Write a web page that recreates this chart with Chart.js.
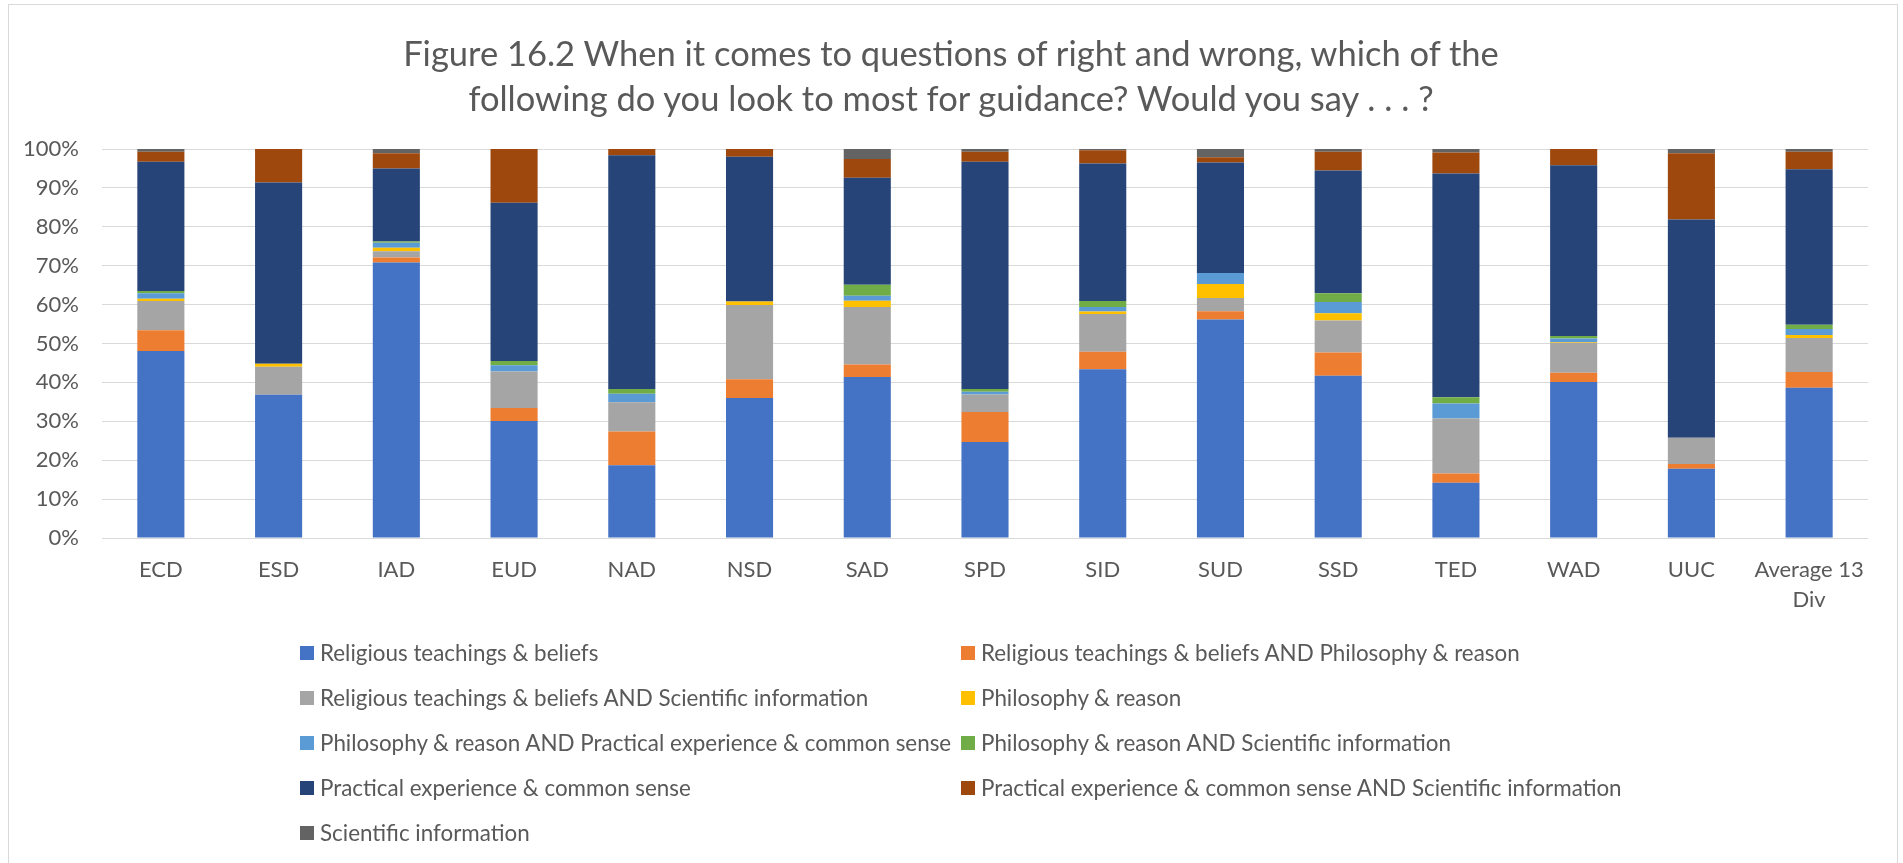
<!DOCTYPE html>
<html>
<head>
<meta charset="utf-8">
<title>Figure 16.2</title>
<script src="https://cdn.jsdelivr.net/npm/chart.js@4.4.1/dist/chart.umd.min.js"></script>
<style>
    html, body { margin: 0; padding: 0; background: #fff; overflow: hidden; }
    #wrap { position: relative; width: 1903px; height: 863px; }
    #chart { position: absolute; left: 0; top: 0; }
    .frame {
        position: absolute; left: 8px; top: 4px; width: 1888px; height: 900px;
        border: 1px solid #d9d9d9; pointer-events: none;
    }
    #title {
        position: absolute; left: 0; top: 29.5px; width: 1902px;
        text-align: center; line-height: 45px;
        font-family: Lato, sans-serif; font-size: 34.5px; color: #595959;
    }
    #legend {
        position: absolute; left: 300px; top: 630px;
        display: grid; grid-template-columns: 661px auto; grid-auto-rows: 45px;
        font-family: Lato, sans-serif; font-size: 22.4px; color: #595959;
    }
    #legend .item { display: flex; align-items: center; white-space: nowrap; }
    #legend .box { width: 14px; height: 14px; margin-right: 6px; flex: none; }
</style>
</head>
<body>
<div id="wrap">
    <canvas id="chart" width="1903" height="863"></canvas>
    <div class="frame"></div>
    <div id="title"></div>
    <div id="legend"></div>
</div>
<script>
const titleLines = [
    'Figure 16.2 When it comes to questions of right and wrong, which of the',
    'following do you look to most for guidance? Would you say . . . ?'
];

const categories = ['ECD', 'ESD', 'IAD', 'EUD', 'NAD', 'NSD', 'SAD', 'SPD', 'SID', 'SUD', 'SSD', 'TED', 'WAD', 'UUC', ['Average 13', 'Div']];

// share of respondents per division, in percent
const religious   = [48.1, 36.8, 70.8, 30.1, 18.7, 36.0, 41.4, 24.7, 43.4, 56.2, 41.7, 14.2, 40.1, 17.8, 38.6];
const relPhil     = [5.3, 0, 1.3, 3.3, 8.7, 4.8, 3.2, 7.7, 4.5, 2.1, 6.0, 2.4, 2.4, 1.2, 4.1];
const relSci      = [7.5, 7.2, 1.6, 9.4, 7.5, 19.1, 14.8, 4.5, 9.7, 3.4, 8.2, 14.1, 7.7, 6.8, 8.7];
const philosophy  = [0.6, 0.8, 0.9, 0, 0, 0.9, 1.6, 0, 0.6, 3.6, 1.9, 0, 0.2, 0, 0.8];
const philPrac    = [1.4, 0, 1.3, 1.6, 2.2, 0, 1.3, 0.7, 1.2, 2.8, 2.9, 3.9, 0.9, 0, 1.5];
const philSci     = [0.6, 0, 0.3, 1.1, 1.2, 0, 2.8, 0.7, 1.5, 0, 2.2, 1.6, 0.6, 0, 1.1];
const practical   = [33.2, 46.6, 18.8, 40.7, 60.1, 37.2, 27.5, 58.4, 35.4, 28.4, 31.6, 57.5, 43.9, 56.1, 40.0];
const pracSci     = [2.6, 8.6, 3.9, 13.8, 1.6, 2.0, 4.8, 2.6, 3.4, 1.4, 4.8, 5.4, 4.2, 17.0, 4.5];
const scientific  = [0.7, 0, 1.1, 0, 0, 0, 2.6, 0.7, 0.3, 2.1, 0.7, 0.9, 0, 1.1, 0.7];

const yTicks = [0, 10, 20, 30, 40, 50, 60, 70, 80, 90, 100];

const seriesNames = [
    'Religious teachings & beliefs',
    'Religious teachings & beliefs AND Philosophy & reason',
    'Religious teachings & beliefs AND Scientific information',
    'Philosophy & reason',
    'Philosophy & reason AND Practical experience & common sense',
    'Philosophy & reason AND Scientific information',
    'Practical experience & common sense',
    'Practical experience & common sense AND Scientific information',
    'Scientific information'
];
const seriesData = [religious, relPhil, relSci, philosophy, philPrac, philSci, practical, pracSci, scientific];
const palette = ['#4472C4', '#ED7D31', '#A5A5A5', '#FFC000', '#5B9BD5', '#70AD47', '#264478', '#9E480E', '#636363'];

const FONT = 'Lato, sans-serif';
const TEXT = '#595959';

document.getElementById('title').innerHTML = titleLines.join('<br>');

const datasets = seriesNames.map((name, i) => ({
    label: name,
    data: seriesData[i],
    backgroundColor: palette[i],
    borderWidth: 0,
    categoryPercentage: 1,
    barPercentage: 0.4
}));

new Chart(document.getElementById('chart'), {
    type: 'bar',
    data: { labels: categories, datasets: datasets },
    options: {
        responsive: false,
        animation: false,
        devicePixelRatio: 1,
        layout: { padding: { top: 149, left: 8, right: 35, bottom: 245 } },
        plugins: {
            legend: { display: false },
            tooltip: { enabled: false }
        },
        scales: {
            x: {
                stacked: true,
                grid: { display: false, drawTicks: false },
                border: { display: false },
                ticks: {
                    color: TEXT, padding: 17, maxRotation: 0, autoSkip: false,
                    font: { family: FONT, size: 22, lineHeight: 30 / 22 }
                },
                afterFit: s => { s.height = 80; }
            },
            y: {
                stacked: true,
                min: 0,
                max: 100,
                grid: { color: '#d9d9d9', lineWidth: 1, drawTicks: false },
                border: { display: false },
                afterBuildTicks: s => { s.ticks = yTicks.map(v => ({ value: v })); },
                ticks: {
                    color: TEXT, padding: 23,
                    font: { family: FONT, size: 22 },
                    callback: v => v + '%'
                },
                afterFit: s => { s.width = 94; }
            }
        }
    }
});

// two-column legend under the plot
const legend = document.getElementById('legend');
seriesNames.forEach((name, i) => {
    const item = document.createElement('div');
    item.className = 'item';
    const box = document.createElement('span');
    box.className = 'box';
    box.style.background = palette[i];
    item.appendChild(box);
    item.appendChild(document.createTextNode(name));
    legend.appendChild(item);
});
</script>
</body>
</html>
